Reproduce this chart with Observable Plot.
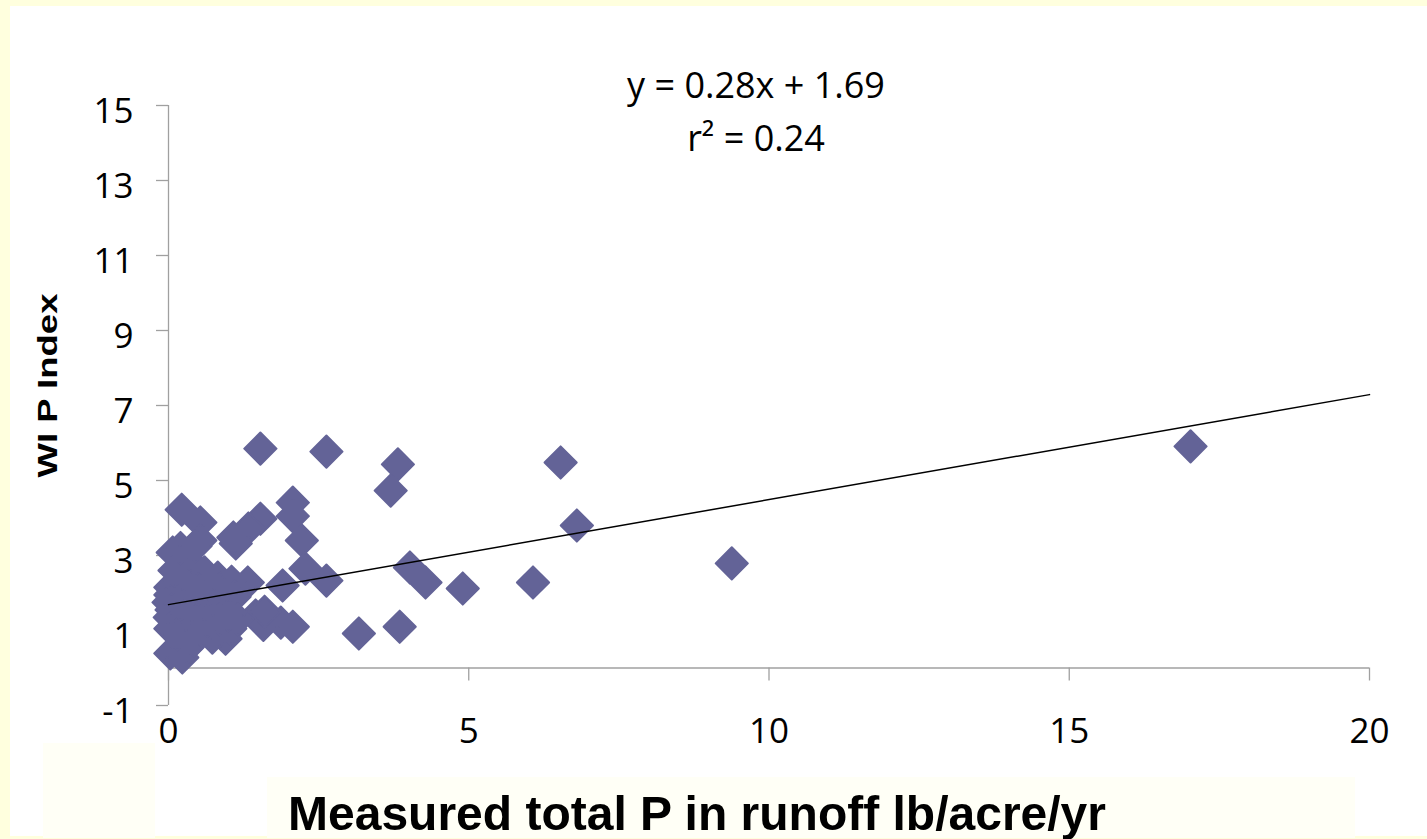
<!DOCTYPE html>
<html><head><meta charset="utf-8">
<script src="https://cdn.jsdelivr.net/npm/d3@7"></script>
<script src="https://cdn.jsdelivr.net/npm/@observablehq/plot@0.6"></script>
<style>
html,body{margin:0;padding:0;background:#FFFFDE;width:1427px;height:839px;overflow:hidden}
#white{position:absolute;left:10px;top:6px;width:1417px;height:830px;background:#ffffff}
.cream{position:absolute;background:#FFFFF6}
#chart{position:absolute;left:0;top:0}
</style></head><body>
<div id="white"></div>
<div class="cream" style="left:43px;top:743px;width:112px;height:95px"></div>
<div class="cream" style="left:267px;top:777px;width:1088px;height:61px"></div>
<div id="chart"></div>
<script>
// Measured total P in runoff (lb/acre/yr)
const measuredP = [17.02, 9.38, 6.53, 6.80, 6.07, 4.90, 4.02, 4.28, 3.85, 3.17,
  3.82, 3.70, 2.63, 1.53, 2.07, 2.07, 2.22, 2.28, 2.63, 1.90,
  1.53, 1.33, 1.12, 1.32, 1.45, 1.58, 1.87, 2.07, 1.60, 0.22,
  0.53, 0.07, 0.53, 0.33, 0.40, 1.08, 0.82, 1.05, 0.03, 0.03,
  0.00, 0.05, 0.02, 0.03, 0.03, 0.23, 0.32, 0.42, 0.73, 0.95,
  0.87, 1.03, 0.35, 0.60, 0.70, 0.25, 0.50, 0.15, 0.60, 0.75,
  0.95, 1.10, 0.90, 0.40, 0.15, 0.55, 0.20, 1.15, 0.30, 0.65,
  0.85, 1.00, 0.10, 0.50, 0.20, 0.45];
// WI P Index
const pIndex = [5.91, 2.79, 5.48, 3.80, 2.28, 2.12, 2.68, 2.28, 1.10, 0.92,
  5.43, 4.73, 5.77, 5.85, 4.41, 4.05, 3.40, 2.65, 2.33, 2.20,
  3.98, 3.72, 3.32, 2.28, 1.40, 1.15, 1.21, 1.10, 1.50, 4.22,
  3.88, 3.08, 3.40, 2.87, 2.68, 3.48, 2.41, 2.30, 2.15, 1.95,
  1.75, 1.55, 1.35, 1.05, 0.39, 0.28, 0.55, 0.73, 0.81, 0.78,
  1.00, 1.05, 1.90, 1.80, 2.20, 1.20, 1.30, 2.30, 2.55, 1.50,
  1.60, 1.90, 2.00, 1.50, 0.90, 1.00, 1.70, 1.30, 2.20, 1.25,
  1.30, 1.40, 2.60, 2.10, 3.20, 3.25];
const xTicks = [0, 5, 10, 15, 20];
const yTicks = [-1, 1, 3, 5, 7, 9, 11, 13, 15];
const slope = 0.28, intercept = 1.69;
const trendX = [0, 20];
const eqLine1 = "y = 0.28x + 1.69";
const eqLine2 = "r² = 0.24";
const xTitle = "Measured total P in runoff lb/acre/yr";
const yTitle = "WI P Index";

const points = measuredP.map((x, i) => ({x, y: pIndex[i]}));
const font = "'Open Sans', Calibri, sans-serif";
const boldFont = "'Liberation Sans', Arial, sans-serif";
const axisGray = "#a0a0a0";
const markerColor = "#636397";
const plainFormat = d => String(d);

const chart = Plot.plot({
  width: 1427, height: 839,
  marginLeft: 168, marginRight: 58, marginTop: 105, marginBottom: 134,
  style: {background: "transparent", fontFamily: font, color: "black"},
  x: {domain: [0, 20], axis: null},
  y: {domain: [-1, 15], axis: null},
  marks: [
    Plot.ruleX([0], {stroke: axisGray, strokeWidth: 1.3}),
    Plot.ruleY([0], {stroke: axisGray, strokeWidth: 1.3}),
    Plot.ruleX(xTicks, {x: d => d, y1: 0, y2: 0, insetBottom: -13, stroke: axisGray, strokeWidth: 1.3}),
    Plot.axisY(yTicks, {anchor: "left", tickSize: 12, stroke: axisGray, strokeWidth: 1.3, fill: null, label: null}),
    Plot.axisY(yTicks, {anchor: "left", tickSize: 12, stroke: "none", tickPadding: 23, dy: 6, fontSize: 35, label: null, fill: "black", tickFormat: plainFormat}),
    Plot.axisX(xTicks, {anchor: "bottom", tickSize: 0, tickPadding: 13, fontSize: 35, label: null, fill: "black", tickFormat: plainFormat}),
    Plot.dot(points, {x: "x", y: "y", symbol: "diamond2", r: 14.5, fill: markerColor, stroke: markerColor, strokeWidth: 2, strokeLinejoin: "round"}),
    Plot.line(trendX, {x: d => d, y: d => slope * d + intercept, stroke: "black", strokeWidth: 1.5}),
    Plot.text([eqLine1], {frameAnchor: "top", textAnchor: "middle", dx: -13, dy: -8, lineAnchor: "bottom", fontSize: 36, fill: "black"}),
    Plot.text([eqLine2], {frameAnchor: "top", textAnchor: "middle", dx: -13, dy: 45, lineAnchor: "bottom", fontSize: 36, fill: "black"}),
    Plot.text([xTitle], {frameAnchor: "bottom", textAnchor: "middle", dx: -72, dy: 124, lineAnchor: "bottom", fontSize: 49, fontWeight: "bold", fontFamily: boldFont, fill: "black"}),
    Plot.text([yTitle], {frameAnchor: "left", textAnchor: "middle", dx: -112, dy: -20, rotate: -90, lineAnchor: "bottom", fontSize: 28, fontWeight: "bold", fontFamily: boldFont, fill: "black"})
  ]
});
document.getElementById("chart").appendChild(chart);
d3.select(chart).selectAll("text").each(function () {
  const t = this.textContent;
  if (t === xTitle) { this.setAttribute("textLength", 818); this.setAttribute("lengthAdjust", "spacingAndGlyphs"); }
  if (t === yTitle) { this.setAttribute("textLength", 184); this.setAttribute("lengthAdjust", "spacingAndGlyphs"); }
});
</script>
</body></html>
